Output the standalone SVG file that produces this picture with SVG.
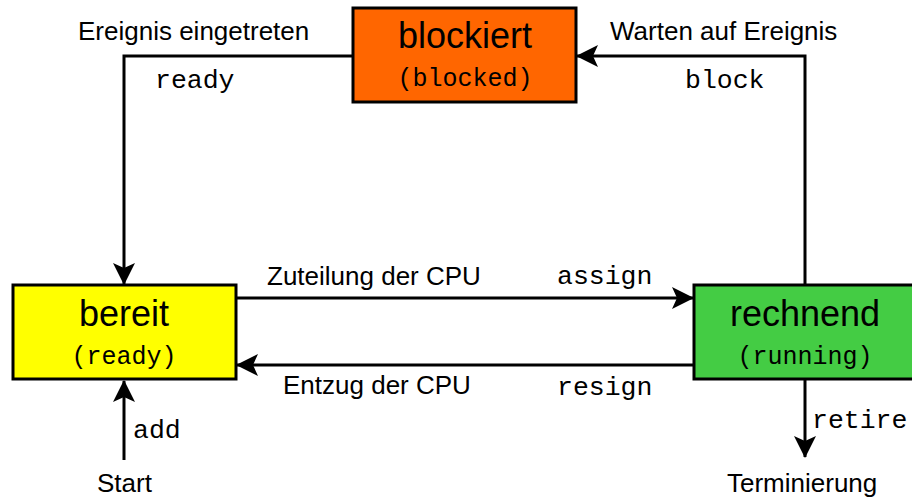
<svg xmlns="http://www.w3.org/2000/svg" width="912" height="499" viewBox="0 0 912 499">
  <style>
    .box { stroke: #000; stroke-width: 3; }
    .title { font-family: "Liberation Sans", Arial, sans-serif; font-size: 36px; text-anchor: middle; fill: #000; }
    .sub { font-family: "Liberation Mono", "Courier New", monospace; font-size: 25px; text-anchor: middle; fill: #000; }
    .lbl { font-family: "Liberation Sans", Arial, sans-serif; font-size: 26px; fill: #000; }
    .code { font-family: "Liberation Mono", "Courier New", monospace; font-size: 26.5px; fill: #000; }
    .edge { fill: none; stroke: #000; stroke-width: 3; marker-end: url(#arrow); }
  </style>
  <defs>
    <marker id="arrow" viewBox="0 0 22 22" refX="21" refY="11" markerWidth="22" markerHeight="22" markerUnits="userSpaceOnUse" orient="auto">
      <path d="M0,0 L22,11 L0,22 L5,11 Z" fill="#000"/>
    </marker>
  </defs>

  <rect width="912" height="499" fill="#fff"/>

  <!-- transitions -->
  <g id="connectors">
    <path class="edge" d="M353,56 H124 V284"/>
    <path class="edge" d="M805,285 V56 H577"/>
    <path class="edge" d="M236,298 H693"/>
    <path class="edge" d="M694,365 H237"/>
    <path class="edge" d="M124,460 V381"/>
    <path class="edge" d="M805,380 V457"/>
  </g>

  <g id="blockiert">
    <rect class="box" x="353" y="8" width="223" height="94" fill="#FF6600"/>
    <text class="title" x="465" y="48">blockiert</text>
    <text class="sub" x="465" y="86">(blocked)</text>
  </g>

  <g id="bereit">
    <rect class="box" x="13" y="285" width="223" height="94" fill="#FFFF00"/>
    <text class="title" x="124" y="326">bereit</text>
    <text class="sub" x="124" y="364">(ready)</text>
  </g>

  <g id="rechnend">
    <rect class="box" x="694" y="285" width="223" height="94" fill="#44CC44"/>
    <text class="title" x="805" y="326">rechnend</text>
    <text class="sub" x="805" y="364">(running)</text>
  </g>

  <!-- edge labels -->
  <g id="labels">
    <text class="lbl" x="78" y="40">Ereignis eingetreten</text>
    <text class="code" x="155" y="88">ready</text>
    <text class="lbl" x="610" y="40">Warten auf Ereignis</text>
    <text class="code" x="685" y="88">block</text>
    <text class="lbl" x="267" y="285">Zuteilung der CPU</text>
    <text class="code" x="557" y="284">assign</text>
    <text class="lbl" x="283" y="394">Entzug der CPU</text>
    <text class="code" x="557" y="395">resign</text>
    <text class="code" x="133" y="438">add</text>
    <text class="lbl" x="97" y="492">Start</text>
    <text class="code" x="812" y="428">retire</text>
    <text class="lbl" x="727" y="492">Terminierung</text>
  </g>
</svg>
